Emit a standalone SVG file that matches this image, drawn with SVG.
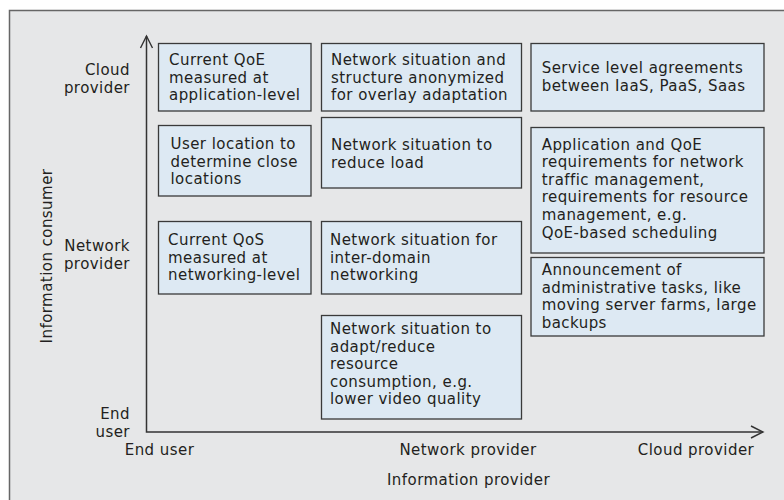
<svg xmlns="http://www.w3.org/2000/svg" width="784" height="500" viewBox="0 0 784 500">
<style>
text{font-family:"DejaVu Sans","Open Sans","Liberation Sans",sans-serif;font-size:15px;letter-spacing:0.45px;fill:#231f20}
.box{fill:#dde9f3;stroke:#3a3a3a;stroke-width:1.3}
.axis{fill:none;stroke:#333;stroke-width:1.5}
.end{text-anchor:end}
.mid{text-anchor:middle}
</style>
<defs>
<marker id="arr" markerUnits="userSpaceOnUse" markerWidth="16" markerHeight="16" viewBox="-13 -8 16 16" refX="0" refY="0" orient="auto-start-reverse">
<path d="M-12,-6 L0,0 L-12,6" fill="none" stroke="#333" stroke-width="1.4"/>
</marker>
</defs>
<rect x="0" y="0" width="784" height="500" fill="#fff"/>
<rect x="9.5" y="10.5" width="800" height="520" fill="#e6e7e8" stroke="#666" stroke-width="1.5"/>
<g id="connectors">
<path class="axis" d="M146.5,36 V432 H763" marker-start="url(#arr)" marker-end="url(#arr)"/>
</g>
<g id="axis-labels">
<text class="end" x="130" y="75">Cloud<tspan x="130" dy="17.6">provider</tspan></text>
<text class="end" x="130" y="251">Network<tspan x="130" dy="17.6">provider</tspan></text>
<text class="end" x="130" y="419">End<tspan x="130" dy="17.6">user</tspan></text>
<text class="mid" x="159.5" y="455">End user</text>
<text class="mid" x="468" y="455">Network provider</text>
<text class="mid" x="696" y="455">Cloud provider</text>
<text class="mid" x="468.5" y="485">Information provider</text>
<text class="mid" transform="translate(52,256) rotate(-90)">Information consumer</text>
</g>
<g id="n1">
<rect class="box" x="158.5" y="43.5" width="152.5" height="67.5"/>
<text x="169" y="65">Current QoE<tspan x="169" dy="17.6">measured at</tspan><tspan x="169" dy="17.6">application-level</tspan></text>
</g>
<g id="n2">
<rect class="box" x="158.5" y="125.5" width="152.5" height="70.5"/>
<text x="170.5" y="149">User location to<tspan x="170.5" dy="17.6">determine close</tspan><tspan x="170.5" dy="17.6">locations</tspan></text>
</g>
<g id="n3">
<rect class="box" x="158.5" y="221.5" width="152.5" height="72.5"/>
<text x="168" y="245">Current QoS<tspan x="168" dy="17.6">measured at</tspan><tspan x="168" dy="17.6">networking-level</tspan></text>
</g>
<g id="n4">
<rect class="box" x="321.5" y="43.5" width="200" height="67.5"/>
<text x="331" y="65">Network situation and<tspan x="331" dy="17.6">structure anonymized</tspan><tspan x="331" dy="17.6">for overlay adaptation</tspan></text>
</g>
<g id="n5">
<rect class="box" x="321.5" y="117.5" width="200" height="70.5"/>
<text x="331" y="150">Network situation to<tspan x="331" dy="17.6">reduce load</tspan></text>
</g>
<g id="n6">
<rect class="box" x="321.5" y="221.5" width="200" height="72.5"/>
<text x="330" y="245">Network situation for<tspan x="330" dy="17.6">inter-domain</tspan><tspan x="330" dy="17.6">networking</tspan></text>
</g>
<g id="n7">
<rect class="box" x="321.5" y="315.5" width="200" height="103.5"/>
<text x="330" y="334">Network situation to<tspan x="330" dy="17.6">adapt/reduce</tspan><tspan x="330" dy="17.6">resource</tspan><tspan x="330" dy="17.6">consumption, e.g.</tspan><tspan x="330" dy="17.6">lower video quality</tspan></text>
</g>
<g id="n8">
<rect class="box" x="531" y="43.5" width="233" height="67.5"/>
<text x="541.7" y="73">Service level agreements<tspan x="541.7" dy="17.6">between IaaS, PaaS, Saas</tspan></text>
</g>
<g id="n9">
<rect class="box" x="531" y="127.5" width="233" height="125.5"/>
<text x="541.7" y="149.5">Application and QoE<tspan x="541.7" dy="17.6">requirements for network</tspan><tspan x="541.7" dy="17.6">traffic management,</tspan><tspan x="541.7" dy="17.6">requirements for resource</tspan><tspan x="541.7" dy="17.6">management, e.g.</tspan><tspan x="541.7" dy="17.6">QoE-based scheduling</tspan></text>
</g>
<g id="n10">
<rect class="box" x="531" y="257.5" width="233" height="78.5"/>
<text x="541.7" y="275">Announcement of<tspan x="541.7" dy="17.6">administrative tasks, like</tspan><tspan x="541.7" dy="17.6">moving server farms, large</tspan><tspan x="541.7" dy="17.6">backups</tspan></text>
</g>
</svg>
